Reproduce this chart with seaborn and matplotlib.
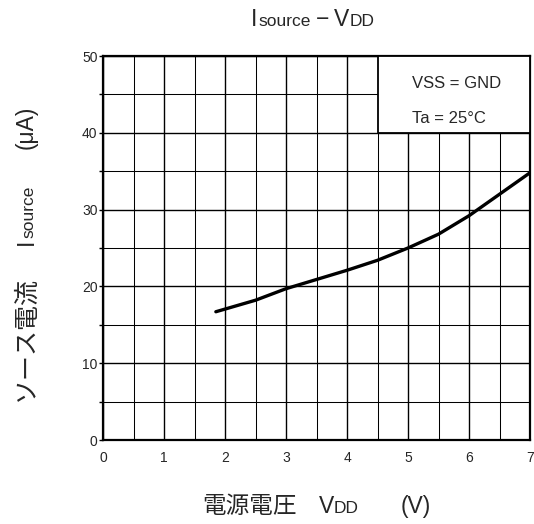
import numpy as np
import pandas as pd
import seaborn as sns
import matplotlib.pyplot as plt
from matplotlib.patches import Rectangle

# curve
vdd = [1.85, 2.5, 3.0, 3.5, 4.0, 4.5, 5.0, 5.5, 6.0, 6.5, 7.0]
isource = [16.7, 18.2, 19.7, 20.9, 22.1, 23.4, 25.0, 26.8, 29.2, 32.0, 34.8]

x_ticks = [0, 1, 2, 3, 4, 5, 6, 7]
y_ticks = [0, 10, 20, 30, 40, 50]
note_lines = ["VSS = GND", "Ta = 25°C"]

LATIN = ['Liberation Sans', 'DejaVu Sans']
CJK = ['Noto Sans CJK JP', 'DejaVu Sans']

sns.set_style("white")
plt.rcParams['font.family'] = LATIN

W, H = 534, 524
fig = plt.figure(figsize=(W / 100, H / 100), dpi=100)
ax = fig.add_axes([103 / W, 1 - 440 / H, 427 / W, 384 / H])

df = pd.DataFrame({"vdd": vdd, "isource": isource})
sns.lineplot(data=df, x="vdd", y="isource", color="black", lw=2.4, ax=ax, zorder=5)

ax.set_xlim(0, 7)
ax.set_ylim(0, 50)
ax.set_xticks(x_ticks)
ax.set_yticks(y_ticks)
ax.set_xticks(np.arange(0, 7.01, 0.5), minor=True)
ax.set_yticks(np.arange(0, 50.1, 5), minor=True)
ax.set_xlabel("")
ax.set_ylabel("")
ax.grid(which="major", color="black", lw=1.0)
ax.grid(which="minor", color="black", lw=0.75)
ax.set_axisbelow(True)
ax.tick_params(axis="x", which="both", length=0, pad=8, labelsize=10)
ax.tick_params(axis="y", which="both", length=3, width=1, color="black",
               pad=1, labelsize=10, left=True)
for s in ax.spines.values():
    s.set_visible(True)
    s.set_color("black")
    s.set_linewidth(1.6)

# condition box in the upper right corner
ax.add_patch(Rectangle((4.5, 40), 2.5, 10, facecolor="white", edgecolor="black",
                       lw=1.3, zorder=3))
ax.text(5.07, 46.4, note_lines[0], fontsize=12, va="center", ha="left", zorder=6)
ax.text(5.07, 41.9, note_lines[1], fontsize=12, va="center", ha="left", zorder=6)

renderer = fig.canvas.get_renderer()


def place_runs(runs, x0, y0, vertical=False):
    # runs: (text, size, family, gap in px before it); x0/y0 in px from top-left
    pos = 0.0
    for txt, size, fam, gap in runs:
        pos += gap
        if vertical:
            x, y = x0, y0 - pos
        else:
            x, y = x0 + pos, y0
        t = fig.text(x / W, 1 - y / H, txt, fontsize=size, family=fam,
                     ha="left", va="baseline", rotation_mode="anchor")
        pos += t.get_window_extent(renderer).width
        if vertical:
            t.set_rotation(90)


# title
place_runs([("I", 16.5, LATIN, 0), ("source", 12.5, LATIN, 1),
            ("−", 16.5, LATIN, 5), ("V", 16.5, LATIN, 5), ("DD", 12.5, LATIN, 0)],
           251, 26)
# x label
place_runs([("電源電圧", 17, CJK, 0), ("V", 16.5, LATIN, 22), ("DD", 12.5, LATIN, 0),
            ("(V)", 16.5, LATIN, 42)], 202, 513)
# y label
place_runs([("ソース電流", 18, CJK, 0), ("I", 16.5, LATIN, 31), ("source", 12.5, LATIN, 1),
            ("(μA)", 16.5, LATIN, 36)], 33, 401, vertical=True)

fig.savefig("out.png", dpi=100)
